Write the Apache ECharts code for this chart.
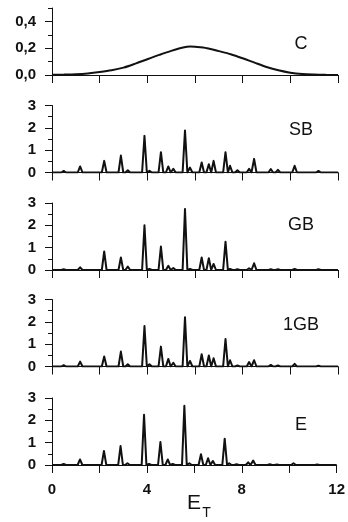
<!DOCTYPE html>
<html><head><meta charset="utf-8">
<script src="https://cdn.jsdelivr.net/npm/echarts@6/dist/echarts.min.js"></script>
<style>html,body{margin:0;padding:0;background:#fff}#c{width:348px;height:522px}</style>
</head><body><div id="c"></div>
<script>
// ---- data ----
const xLabelValues = [0, 4, 8, 12];
const cX = [0,0.5,1,1.5,2,2.5,3,3.5,4,4.5,5,5.5,5.8,6,6.5,7,7.5,8,8.5,9,9.5,10,10.5,11,11.5,12];
const cY = [0.001,0.003,0.006,0.012,0.022,0.035,0.055,0.085,0.118,0.15,0.18,0.205,0.212,0.21,0.2,0.178,0.155,0.125,0.092,0.06,0.035,0.017,0.007,0.003,0.001,0];
const peakPos = [0.49,1.18,2.19,2.89,3.18,3.88,4.09,4.57,4.88,5.09,5.58,5.79,6.28,6.58,6.78,7.28,7.47,7.78,8.27,8.48,9.18,9.48,10.18,11.18];
const sbH  = [0.07,0.27,0.52,0.76,0.10,1.64,0.08,0.91,0.27,0.16,1.88,0.22,0.45,0.37,0.52,0.91,0.30,0.10,0.16,0.61,0.15,0.12,0.30,0.07];
const gbH  = [0.03,0.12,0.83,0.56,0.15,2.00,0.05,1.05,0.19,0.09,2.73,0.05,0.56,0.53,0.27,1.27,0.05,0.03,0.08,0.30,0.03,0.03,0.05,0.03];
const gb1H = [0.06,0.22,0.45,0.67,0.10,1.81,0.10,0.89,0.34,0.17,2.20,0.25,0.55,0.49,0.37,1.23,0.28,0.05,0.20,0.28,0.07,0.05,0.12,0.03];
const eH   = [0.05,0.25,0.63,0.85,0.08,2.25,0.05,1.03,0.25,0.05,2.65,0.08,0.48,0.30,0.18,1.18,0.08,0.03,0.12,0.20,0.03,0.02,0.08,0.02];
const panelNames = ['C', 'SB', 'GB', '1GB', 'E'];
const axisTitle = ['E', 'T'];

// ---- layout ----
const W = 0.1; // peak half-width (shape)
function peakLine(heights) {
  const pts = [[0, 0]];
  peakPos.forEach((p, i) => { pts.push([p - W, 0], [p, heights[i]], [p + W, 0]); });
  pts.push([12, 0]);
  return pts;
}
const bottoms = [75, 172.5, 270, 366.5, 465];
const H = 67;
const L = 52, R = 10;
const FONT = "'Liberation Sans', Arial, sans-serif";
const ink = '#111';

const grids = [], xAxes = [], yAxes = [], series = [];
bottoms.forEach((b, i) => {
  grids.push({ left: L, right: R, top: b - H, height: H });
  xAxes.push({
    gridIndex: i, type: 'value', min: 0, max: 12, interval: 2,
    axisLine: { show: true, onZero: false, lineStyle: { color: ink, width: 1 } },
    axisTick: { show: true, inside: false, length: 8, lineStyle: { color: ink, width: 1 } },
    splitLine: { show: false },
    axisLabel: {
      show: i === 4, margin: 17, color: ink, fontFamily: FONT, fontWeight: 'bold', fontSize: 15,
      formatter: v => xLabelValues.includes(Math.round(v)) ? String(Math.round(v)) : ''
    }
  });
  if (i === 0) {
    yAxes.push({
      gridIndex: i, type: 'value', min: 0, max: 0.5, interval: 0.1,
      axisLine: { show: true, lineStyle: { color: ink, width: 1 } },
      axisTick: { show: true, length: 4, lineStyle: { color: ink, width: 1 } },
      splitLine: { show: false },
      axisLabel: {
        margin: 16, color: ink, fontFamily: FONT, fontWeight: 'bold', fontSize: 15,
        formatter: v => { const r = Math.round(v * 10); return (r % 2 === 0 && r <= 4) ? (r / 10).toFixed(1).replace('.', ',') : ''; }
      }
    });
  } else {
    yAxes.push({
      gridIndex: i, type: 'value', min: 0, max: 3, interval: 1,
      axisLine: { show: true, lineStyle: { color: ink, width: 1 } },
      axisTick: { show: true, length: 7, lineStyle: { color: ink, width: 1 } },
      minorTick: { show: true, splitNumber: 2, length: 4, lineStyle: { color: ink, width: 1 } },
      splitLine: { show: false },
      axisLabel: { margin: 16, color: ink, fontFamily: FONT, fontWeight: 'bold', fontSize: 15 }
    });
  }
});
// ghost grid for the long ticks of panel C
grids.push({ left: L, right: R, top: bottoms[0] - H * 0.8, height: H * 0.8 });
xAxes.push({ gridIndex: 5, type: 'value', min: 0, max: 12, show: false });
yAxes.push({
  gridIndex: 5, type: 'value', min: 0, max: 0.4, interval: 0.2,
  axisLine: { show: false }, axisLabel: { show: false }, splitLine: { show: false },
  axisTick: { show: true, length: 7, lineStyle: { color: ink, width: 1 } }
});

series.push({
  type: 'line', xAxisIndex: 0, yAxisIndex: 0, data: cX.map((x, k) => [x, cY[k]]),
  smooth: 0.3, showSymbol: false, lineStyle: { color: ink, width: 2 }, silent: true, animation: false
});
[sbH, gbH, gb1H, eH].forEach((h, k) => {
  series.push({
    type: 'line', xAxisIndex: k + 1, yAxisIndex: k + 1, data: peakLine(h),
    showSymbol: false, lineStyle: { color: ink, width: 2, join: 'round' }, silent: true, animation: false
  });
});

const labelCenters = [44.5, 130, 225.5, 325, 425];
const graphic = panelNames.map((n, i) => ({
  type: 'text', x: 301, y: labelCenters[i],
  style: { text: n, fill: ink, font: '18px ' + FONT, textAlign: 'center', textVerticalAlign: 'middle' }
}));
graphic.push({ type: 'text', x: 194, y: 503, style: { text: axisTitle[0], fill: ink, font: '21px ' + FONT, textAlign: 'center', textVerticalAlign: 'middle' } });
graphic.push({ type: 'text', x: 206.5, y: 513.5, style: { text: axisTitle[1], fill: ink, font: '14px ' + FONT, textAlign: 'center', textVerticalAlign: 'middle' } });

const chart = echarts.init(document.getElementById('c'), null, { renderer: 'canvas' });
chart.setOption({
  animation: false, backgroundColor: '#fff',
  grid: grids, xAxis: xAxes, yAxis: yAxes, series: series, graphic: graphic
});
</script>
</body></html>
